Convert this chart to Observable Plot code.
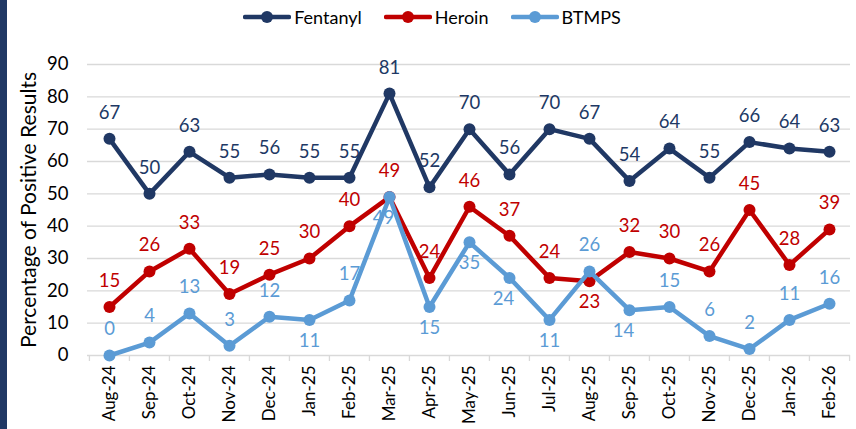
<!DOCTYPE html>
<html>
<head>
<meta charset="utf-8">
<script src="https://cdn.jsdelivr.net/npm/d3@7"></script>
<script src="https://cdn.jsdelivr.net/npm/@observablehq/plot@0.6"></script>
<style>
  html, body { margin: 0; padding: 0; background: #fff; }
  #wrap { position: relative; width: 856px; height: 429px; overflow: hidden; font-family: Lato, "Open Sans", sans-serif; }
  #bar { position: absolute; left: 0; top: 0; width: 7px; height: 429px; background: #203864; }
  #legend { position: absolute; left: 0; top: 6px; width: 856px; display: flex; justify-content: center; padding-left: 8px; box-sizing: border-box; font-size: 18px; color: #000; }
  .item { display: flex; align-items: center; margin: 0 11px; }
  .item svg { margin-right: 3px; }
  #chart { position: absolute; left: 0; top: 0; }
</style>
</head>
<body>
<div id="wrap">
  <div id="chart"></div>
  <div id="bar"></div>
  <div id="legend"></div>
</div>
<script>
// ---- Data ----
const months = ["Aug-24","Sep-24","Oct-24","Nov-24","Dec-24","Jan-25","Feb-25","Mar-25","Apr-25","May-25","Jun-25","Jul-25","Aug-25","Sep-25","Oct-25","Nov-25","Dec-25","Jan-26","Feb-26"];
const seriesNames = ["Fentanyl", "Heroin", "BTMPS"];
const fentanyl = [67, 50, 63, 55, 56, 55, 55, 81, 52, 70, 56, 70, 67, 54, 64, 55, 66, 64, 63];
const heroin   = [15, 26, 33, 19, 25, 30, 40, 49, 24, 46, 37, 24, 23, 32, 30, 26, 45, 28, 39];
const btmps    = [0, 4, 13, 3, 12, 11, 17, 49, 15, 35, 24, 11, 26, 14, 15, 6, 2, 11, 16];
const yTicks   = [0, 10, 20, 30, 40, 50, 60, 70, 80, 90];
const yTitle   = "Percentage of Positive Results";
// label placement per point: "a" above, "b" below, "bl" below-left
const fentanylLabel = ["a","a","a","a","a","a","a","a","a","a","a","a","a","a","a","a","a","a","a"];
const heroinLabel   = ["a","a","a","a","a","a","a","a","a","a","a","a","b","a","a","a","a","a","a"];
const btmpsLabel    = ["a","a","a","a","a","b","a","bl","b","b","bl","b","a","bl","a","a","a","a","a"];

const colors = {Fentanyl: "#203864", Heroin: "#C00000", BTMPS: "#5B9BD5"};
const valuesBy = {Fentanyl: fentanyl, Heroin: heroin, BTMPS: btmps};
const labelsBy = {Fentanyl: fentanylLabel, Heroin: heroinLabel, BTMPS: btmpsLabel};

const rows = [];
for (const s of seriesNames) {
  valuesBy[s].forEach((v, i) => rows.push({month: months[i], series: s, value: v, pos: labelsBy[s][i]}));
}

const W = 856, H = 429, mL = 87, mR = 6, mT = 64, mB = 74;
const step = (W - mL - mR) / months.length;

const seriesMarks = [];
for (const s of seriesNames) {
  const d = rows.filter(r => r.series === s);
  seriesMarks.push(
    Plot.line(d, {x: "month", y: "value", stroke: colors[s], strokeWidth: 4.5, strokeLinejoin: "round", strokeLinecap: "round"}),
    Plot.dot(d, {x: "month", y: "value", fill: colors[s], r: 6})
  );
}
const labelMarks = [];
for (const s of seriesNames) {
  const d = rows.filter(r => r.series === s);
  const common = {x: "month", y: "value", text: r => String(r.value), fill: colors[s], fontSize: 18.5, textAnchor: "middle", lineAnchor: "middle"};
  labelMarks.push(
    Plot.text(d.filter(r => r.pos === "a"), {...common, dy: -26}),
    Plot.text(d.filter(r => r.pos === "b"), {...common, dy: 21}),
    Plot.text(d.filter(r => r.pos === "bl"), {...common, dy: 21, dx: -6})
  );
}

const chart = Plot.plot({
  width: W, height: H,
  marginLeft: mL, marginRight: mR, marginTop: mT, marginBottom: mB,
  style: {fontFamily: "Lato, 'Open Sans', sans-serif", fontSize: "18px", color: "#000", background: "transparent", overflow: "visible"},
  x: {type: "band", domain: months, paddingInner: 0, paddingOuter: 0},
  y: {domain: [0, 90]},
  marks: [
    Plot.gridY(yTicks.slice(1), {stroke: "#d9d9d9", strokeOpacity: 1, strokeWidth: 1.3}),
    Plot.ruleY([0], {stroke: "#d9d9d9", strokeWidth: 1.3}),
    Plot.ruleX(months, {x: d => d, y1: 0, y2: 0, insetBottom: -6, dx: -step / 2, stroke: "#d9d9d9", strokeWidth: 1.3}),
    Plot.ruleX(months.slice(-1), {x: d => d, y1: 0, y2: 0, insetBottom: -6, dx: step / 2, stroke: "#d9d9d9", strokeWidth: 1.3}),
    Plot.axisY({ticks: yTicks, tickSize: 0, tickPadding: 19, label: null, fontSize: 18.5}),
    Plot.axisX({tickSize: 0, tickRotate: -90, tickPadding: 10, label: null, fontSize: 17}),
    Plot.text([yTitle], {frameAnchor: "left", text: d => d, rotate: -90, dx: -58, fontSize: 21, fill: "#000", textAnchor: "middle", lineAnchor: "middle"}),
    ...seriesMarks,
    ...labelMarks
  ]
});
document.getElementById("chart").appendChild(chart);

// Legend (HTML, above the plot area)
const legend = document.getElementById("legend");
for (const s of seriesNames) {
  const item = document.createElement("div");
  item.className = "item";
  item.innerHTML = `<svg width="48" height="14"><line x1="2" y1="7" x2="46" y2="7" stroke="${colors[s]}" stroke-width="4.5" stroke-linecap="round"/><circle cx="24" cy="7" r="6" fill="${colors[s]}"/></svg><span>${s}</span>`;
  legend.appendChild(item);
}
</script>
</body>
</html>
